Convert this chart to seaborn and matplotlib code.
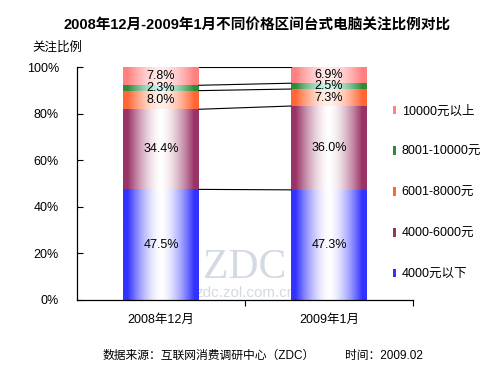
import numpy as np
import pandas as pd
import matplotlib
matplotlib.use("Agg")
import matplotlib.pyplot as plt
import seaborn as sns
from matplotlib.patches import Patch
from matplotlib.ticker import FixedLocator, PercentFormatter
from matplotlib.colors import to_rgb

# ---- data ----
months = ["2008年12月", "2009年1月"]
categories = ["4000元以下", "4000-6000元", "6001-8000元", "8001-10000元", "10000元以上"]
share_4000_below = [47.5, 47.3]
share_4000_6000 = [34.4, 36.0]
share_6001_8000 = [8.0, 7.3]
share_8001_10000 = [2.3, 2.5]
share_10000_above = [7.8, 6.9]
series = [share_4000_below, share_4000_6000, share_6001_8000, share_8001_10000, share_10000_above]
edge_colors = ["#3333FF", "#993366", "#FF6633", "#2E8B3A", "#FF8080"]
center_colors = ["#FFFFFF", "#FFFFFF", "#FFF0EA", "#C8F5EC", "#FFEAEA"]
y_ticks = [0, 20, 40, 60, 80, 100]

sns.set_theme(style="white")
plt.rcParams["font.family"] = ["Liberation Sans", "Noto Sans CJK SC", "DejaVu Sans"]
plt.rcParams["text.color"] = "black"
plt.rcParams["xtick.color"] = "black"
plt.rcParams["ytick.color"] = "black"

fig = plt.figure(figsize=(5, 3.75), dpi=100)
ax = fig.add_axes([0.154, 0.2, 0.672, 0.621])

vals = np.array(series)            # (n_cat, n_month)
cum_top = np.cumsum(vals, axis=0)
cum_bot = cum_top - vals

# draw cumulative bars, tallest first, via seaborn
containers = {}
for i in range(len(categories) - 1, -1, -1):
    df = pd.DataFrame({"month": months, "value": cum_top[i]})
    n_before = len(ax.containers)
    sns.barplot(data=df, x="month", y="value", order=months, color=edge_colors[i],
                width=0.45, errorbar=None, ax=ax, saturation=1, linewidth=0)
    containers[i] = ax.containers[n_before]

def gradient(edge, center, n=200):
    e = np.array(to_rgb(edge)); c = np.array(to_rgb(center))
    x = np.linspace(0, 1, n)
    t = np.abs(2 * x - 1)
    f = np.clip(t / 0.88, 0, 1) ** 1.6
    img = c[None, :] * (1 - f[:, None]) + e[None, :] * f[:, None]
    return img[None, :, :]

# gradient fill for each visible segment
for i in range(len(categories)):
    for j, p in enumerate(containers[i].patches):
        x0 = p.get_x(); w = p.get_width()
        p.set_alpha(0)
        ax.imshow(gradient(edge_colors[i], center_colors[i]), aspect="auto",
                  extent=(x0, x0 + w, cum_bot[i][j], cum_top[i][j]),
                  interpolation="bilinear", zorder=2)
        ax.text(x0 + w / 2, (cum_bot[i][j] + cum_top[i][j]) / 2, f"{vals[i][j]:.1f}%",
                ha="center", va="center", fontsize=9, color="black", zorder=4)

# connecting lines between bars
p_left = containers[0].patches[0]
p_right = containers[0].patches[1]
xa = p_left.get_x() + p_left.get_width()
xb = p_right.get_x()
for i in range(len(categories)):
    ax.plot([xa, xb], [cum_top[i][0], cum_top[i][1]], color="black", lw=0.8, zorder=3)

ax.set_xlim(-0.5, 1.5)
ax.set_ylim(0, 100)
ax.set_yticks(y_ticks)
ax.yaxis.set_major_formatter(PercentFormatter(100, decimals=0))
ax.set_xlabel(""); ax.set_ylabel("")
for s in ["top", "right"]:
    ax.spines[s].set_visible(False)
for s in ["left", "bottom"]:
    ax.spines[s].set_color("black"); ax.spines[s].set_linewidth(0.9)
ax.tick_params(axis="y", direction="in", length=4, width=0.8, color="black",
               left=True, labelsize=9, pad=13)
ax.tick_params(axis="x", which="major", length=0, labelsize=9, pad=10)
ax.xaxis.set_minor_locator(FixedLocator([0.5, 1.5]))
ax.tick_params(axis="x", which="minor", direction="out", length=4, width=0.8,
               color="black", bottom=True)
ax.grid(False)

# watermark
ax.text(0.5, 14, "ZDC", ha="center", va="center", fontsize=30, family="Liberation Serif",
        color="#D3DAE4", zorder=1.5)
ax.text(0.5, 3, "zdc.zol.com.cn", ha="center", va="center", fontsize=11,
        color="#D3DAE4", zorder=1.5)

# legend
handles = [Patch(facecolor=edge_colors[i], edgecolor="none", label=categories[i])
           for i in range(len(categories) - 1, -1, -1)]
fig.legend(handles=handles, loc="upper left", bbox_to_anchor=(0.775, 0.733), frameon=False,
           fontsize=9, handlelength=0.25, handleheight=0.7, handletextpad=0.5,
           labelspacing=2.3, borderaxespad=0)

fig.text(0.514, 0.931, "2008年12月-2009年1月不同价格区间台式电脑关注比例对比",
         ha="center", va="center", fontsize=10.5, fontweight="bold")
fig.text(0.064, 0.872, "关注比例", ha="left", va="center", fontsize=9)
fig.text(0.206, 0.051, "数据来源：互联网消费调研中心（ZDC）", ha="left", va="center", fontsize=8.5)
fig.text(0.69, 0.051, "时间：2009.02", ha="left", va="center", fontsize=8.5)

fig.savefig("out.png", dpi=100, facecolor="white")
